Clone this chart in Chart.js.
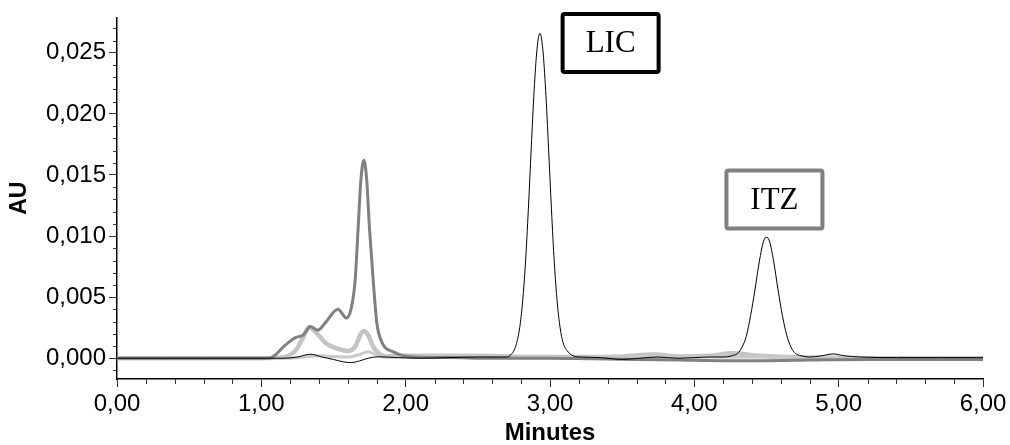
<!DOCTYPE html>
<html>
<head>
<meta charset="UTF-8">
<title>Chromatogram</title>
<script src="https://cdn.jsdelivr.net/npm/chart.js"></script>
<style>
  body { margin: 0; background: #fff; }
  canvas { display: block; }
</style>
</head>
<body>
<canvas id="chrom" width="1010" height="445"></canvas>
<script>
// traces (time in minutes, absorbance in AU)
const blackTime = [0, 0.3, 0.6, 0.9, 1.15, 1.25, 1.34, 1.42, 1.50, 1.57, 1.62, 1.68, 1.74, 1.81, 1.95, 2.1, 2.3, 2.5, 2.62,
  2.70, 2.73, 2.76, 2.79, 2.81, 2.83, 2.85, 2.87, 2.89, 2.91, 2.93, 2.95, 2.97, 2.99, 3.01, 3.03, 3.05, 3.07, 3.09, 3.12, 3.16, 3.22,
  3.35, 3.50, 3.62, 3.75, 3.88, 4.0, 4.1, 4.2, 4.26, 4.30, 4.33, 4.36, 4.39, 4.42, 4.45, 4.48, 4.50, 4.52, 4.55, 4.58, 4.61,
  4.64, 4.67, 4.70, 4.74, 4.80, 4.88, 4.96, 5.04, 5.15, 5.4, 5.7, 6.0];
const blackAu = [0, 0, 0, 0, 0, 0.0001, 0.00033, 0.0001, -0.0001, -0.0003, -0.00036, -0.00022, 0, 0.00012, 0.00005, 0, 0.00005, 0.0001, 0.0001,
  0.0001, 0.0003, 0.0009, 0.0025, 0.0046, 0.0078, 0.0122, 0.0172, 0.0219, 0.0253, 0.0266, 0.0253, 0.0219, 0.0172, 0.0122, 0.0078, 0.0046, 0.0025, 0.0013, 0.0006, 0.0002, 0.0001,
  0.00005, -0.0001, 0, 0.0001, 0, 0.00005, 0.0001, 0.0001, 0.0002, 0.0004, 0.0009, 0.0018, 0.0035, 0.0056, 0.0079, 0.0096, 0.0099, 0.0096, 0.0079, 0.0056, 0.0035,
  0.0019, 0.0009, 0.0004, 0.0002, 0.0001, 0.0002, 0.00035, 0.0002, 0.0001, 0.00005, 0.00005, 0.00005];

const darkTime = [0, 0.4, 0.8, 1.0, 1.06, 1.10, 1.15, 1.20, 1.24, 1.29, 1.34, 1.39, 1.45, 1.53, 1.59, 1.625, 1.65, 1.67, 1.69, 1.71,
  1.73, 1.75, 1.775, 1.80, 1.84, 1.91, 2.05, 2.3, 2.6, 3.0, 3.3, 3.6, 3.9, 4.2, 4.5, 4.8, 5.2, 5.6, 6.0];
const darkAu = [0, 0, 0, 0, 0.00002, 0.0003, 0.0009, 0.0014, 0.0017, 0.0019, 0.0026, 0.0023, 0.0030, 0.0040, 0.0033, 0.0042, 0.0064, 0.0105, 0.0146, 0.0162,
  0.0146, 0.0105, 0.0064, 0.0029, 0.0012, 0.00054, 0.0001, 0.00005, 0, 0, -0.00005, -0.0001, -0.00015, -0.0002, -0.0002, -0.00015, -0.0001, -0.0001, -0.0001];

const lightTime = [0, 0.5, 1.0, 1.17, 1.24, 1.29, 1.33, 1.38, 1.45, 1.52, 1.60, 1.65, 1.69, 1.71, 1.74, 1.775, 1.82, 1.87,
  2.0, 2.3, 2.6, 2.9, 3.2, 3.5, 3.72, 3.9, 4.1, 4.27, 4.45, 4.65, 4.9, 5.3, 5.7, 6.0];
const lightAu = [0, 0, 0, 0.00013, 0.00068, 0.0017, 0.00254, 0.0021, 0.0012, 0.0008, 0.0006, 0.00095, 0.0020, 0.00223, 0.0019, 0.00095, 0.00035, 0.00015,
  0.0002, 0.0002, 0.00018, 0.0001, 0.0001, 0.00015, 0.0003, 0.00015, 0.0002, 0.0004, 0.0002, 0.0001, 0.00005, 0, 0, 0];

const paleTime = [0, 0.6, 1.2, 1.3, 1.4, 1.5, 1.6, 1.68, 1.74, 1.79, 1.85, 2.0, 2.5, 3.0, 3.5, 4.0, 4.5, 5.0, 5.5, 6.0];
const paleAu = [0, 0, 0, 0.0001, 0.0002, 0.00015, 0.0001, 0.0003, 0.00054, 0.0003, 0.0001, 0.0001, 0.00015, 0.0001, 0.0001, 0.0001, 0.0001, 0.00005, 0, 0];

// peak labels
const labelText = ['LIC', 'ITZ'];
const labelTime = [3.42, 4.555];
const labelAu = [0.0258, 0.0130];
const labelColor = ['#000000', '#808080'];

const comma = (v, d) => v.toFixed(d).replace('.', ',');
const pts = (xs, ys) => xs.map((x, i) => ({x: x, y: ys[i]}));
const axisFont = {family: "'Liberation Sans', Arial, sans-serif", size: 24};
const titleFont = {family: "'Liberation Sans', Arial, sans-serif", size: 24, weight: 'bold', lineHeight: 1};

// minor ticks + label boxes
const extras = {
  id: 'extras',
  afterDraw(chart) {
    const ctx = chart.ctx, xs = chart.scales.x, ys = chart.scales.y;
    const area = chart.chartArea;
    ctx.save();
    ctx.strokeStyle = '#333';
    ctx.lineWidth = 1;
    ctx.beginPath();
    for (let i = 1; i < 30; i++) {
      if (i % 5 === 0) continue;
      const px = Math.round(xs.getPixelForValue(i / 5)) + 0.5;
      ctx.moveTo(px, area.bottom);
      ctx.lineTo(px, area.bottom + 5);
    }
    for (let i = -1; i <= 27; i++) {
      if (i % 5 === 0) continue;
      const py = Math.round(ys.getPixelForValue(i / 1000)) + 0.5;
      ctx.moveTo(area.left - 4, py);
      ctx.lineTo(area.left, py);
    }
    ctx.stroke();

    labelText.forEach((t, i) => {
      const cx = xs.getPixelForValue(labelTime[i]);
      const cy = ys.getPixelForValue(labelAu[i]);
      const w = 96, h = 58;
      ctx.lineWidth = 4;
      ctx.strokeStyle = labelColor[i];
      ctx.fillStyle = '#fff';
      ctx.beginPath();
      ctx.roundRect(cx - w / 2, cy - h / 2, w, h, 2);
      ctx.fill();
      ctx.stroke();
      ctx.fillStyle = '#000';
      ctx.font = "31px 'Liberation Serif', 'Times New Roman', serif";
      ctx.textAlign = 'center';
      ctx.textBaseline = 'middle';
      ctx.fillText(t, cx, cy + 1);
    });
    ctx.restore();
  }
};

// first dataset is drawn on top
new Chart(document.getElementById('chrom'), {
  type: 'line',
  data: {
    datasets: [
      {data: pts(blackTime, blackAu), borderColor: '#000000', borderWidth: 1},
      {data: pts(darkTime, darkAu), borderColor: '#808080', borderWidth: 3},
      {data: pts(paleTime, paleAu), borderColor: '#c8c8c8', borderWidth: 3},
      {data: pts(lightTime, lightAu), borderColor: '#c4c4c4', borderWidth: 4.5}
    ]
  },
  options: {
    responsive: false,
    animation: false,
    parsing: false,
    layout: {padding: {top: 17, right: 27, left: 0, bottom: 0}},
    elements: {
      point: {radius: 0},
      line: {cubicInterpolationMode: 'monotone', fill: false}
    },
    plugins: {legend: {display: false}, tooltip: {enabled: false}},
    scales: {
      x: {
        type: 'linear', min: 0, max: 6,
        ticks: {stepSize: 1, autoSkip: false, maxRotation: 0, padding: 3, color: '#000', font: axisFont,
          callback: v => comma(v, 2)},
        grid: {drawOnChartArea: false, tickLength: 8, color: '#333'},
        border: {color: '#000', width: 1.5},
        title: {display: true, text: 'Minutes', color: '#000', font: titleFont, padding: {top: 0, bottom: 0}},
        afterFit: s => { s.height = 66; }
      },
      y: {
        type: 'linear', min: -0.0017, max: 0.0279,
        ticks: {stepSize: 0.005, includeBounds: false, padding: 3, color: '#000', font: axisFont,
          callback: v => comma(v, 3)},
        grid: {drawOnChartArea: false, tickLength: 8, color: '#333'},
        border: {color: '#000', width: 1.5},
        title: {display: true, text: 'AU', color: '#000', font: {...titleFont, size: 23}, padding: {top: 8, bottom: 0}},
        afterFit: s => { s.width = 117; }
      }
    }
  },
  plugins: [extras]
});
</script>
</body>
</html>
